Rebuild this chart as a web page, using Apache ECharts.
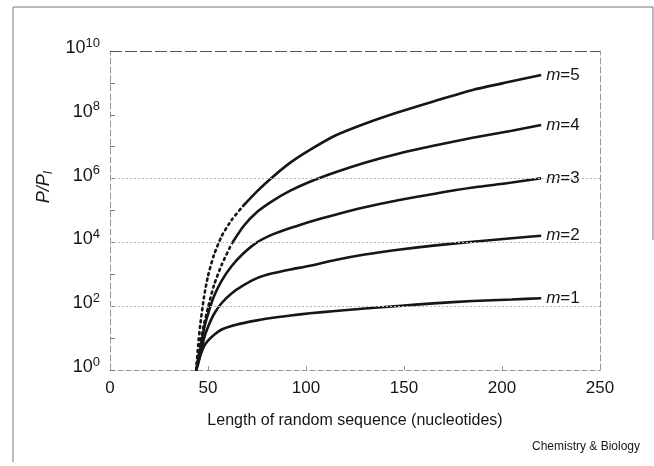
<!DOCTYPE html>
<html>
<head>
<meta charset="utf-8">
<script src="https://cdn.jsdelivr.net/npm/echarts@6/dist/echarts.min.js"></script>
<style>
  html, body { margin: 0; padding: 0; background: #fff; }
  #chart { width: 654px; height: 466px; }
</style>
</head>
<body>
<div id="chart"></div>
<script>
// sequence length (nucleotides)
const xs = [44, 45, 46, 48, 50, 53, 57, 62, 68, 75, 83, 92, 102, 115, 130, 147, 165, 185, 205, 220];
// P/P_I for each m
const m1 = [1, 1.78, 2.8, 5.6, 8.3, 12.6, 18.6, 24, 29.5, 36, 43.6, 51, 60, 71, 85, 102, 123, 145, 162, 178];
const m2 = [1, 1.58, 2.8, 10, 22.4, 56, 126, 251, 447, 759, 1070, 1410, 1860, 2820, 4170, 5890, 7940, 10500, 13500, 16200];
const m3 = [1, 2.24, 4.47, 20, 56, 200, 631, 1780, 4470, 10000, 17800, 28200, 44700, 74100, 1.26e5, 2.09e5, 3.31e5, 5.25e5, 7.59e5, 1.02e6];
const m4 = [1, 3.16, 7.1, 28, 89, 447, 2000, 8900, 31600, 89100, 2.0e5, 4.17e5, 7.94e5, 1.58e6, 3.16e6, 6.03e6, 1.07e7, 1.91e7, 3.16e7, 4.79e7];
const m5 = [1, 6.3, 25, 200, 890, 3980, 15800, 50100, 1.41e5, 3.98e5, 1.12e6, 3.16e6, 7.94e6, 2.24e7, 5.25e7, 1.2e8, 2.63e8, 6.03e8, 1.12e9, 1.78e9];
const curves = [
    { m: 1, values: m1, dottedUntil: 0 },
    { m: 2, values: m2, dottedUntil: 0 },
    { m: 3, values: m3, dottedUntil: 0 },
    { m: 4, values: m4, dottedUntil: 7 },
    { m: 5, values: m5, dottedUntil: 8 },
];
const xTicks = [0, 50, 100, 150, 200, 250];
const gridValues = [1e2, 1e4, 1e6];
const yMin = 1, yMax = 1e10;

const ink = '#161616';
const fontFamily = '"Liberation Sans", Arial, sans-serif';

const chart = echarts.init(document.getElementById('chart'), null, { renderer: 'canvas' });

const series = [];
curves.forEach(c => {
    const pts = xs.map((x, i) => [x, c.values[i]]);
    if (c.dottedUntil > 0) {
        series.push({
            type: 'line',
            data: pts.slice(0, c.dottedUntil + 1),
            smooth: 0.2,
            symbol: 'none',
            lineStyle: { color: ink, width: 2.6, type: [2, 4], cap: 'round' },
            z: 3,
        });
    }
    series.push({
        type: 'line',
        data: pts.slice(c.dottedUntil),
        smooth: 0.2,
        symbol: 'none',
        lineStyle: { color: ink, width: 2.6 },
        z: 3,
        endLabel: {
            show: true,
            distance: 5,
            formatter: '{i|m}{n|=' + c.m + '}',
            rich: {
                i: { fontFamily: fontFamily, fontSize: 17, fontStyle: 'italic', color: ink },
                n: { fontFamily: fontFamily, fontSize: 17, color: ink },
            },
        },
    });
});

// grid lines + top frame line
series.push({
    type: 'line',
    data: [],
    silent: true,
    markLine: {
        silent: true,
        symbol: 'none',
        label: { show: false },
        animation: false,
        data: gridValues.map(v => ({
            yAxis: v,
            lineStyle: { color: '#b8b8b8', width: 1, type: [2, 2] },
        })).concat([{
            yAxis: yMax,
            lineStyle: { color: '#555', width: 1, type: [12, 3] },
        }]),
    },
});

const option = {
    animation: false,
    backgroundColor: '#fff',
    grid: { left: 110, right: 54, top: 51, bottom: 96 },
    xAxis: {
        type: 'value',
        min: 0,
        max: 250,
        interval: 50,
        name: 'Length of random sequence (nucleotides)',
        nameLocation: 'middle',
        nameGap: 43,
        nameTextStyle: { fontFamily: fontFamily, fontSize: 16, color: ink },
        axisLine: { show: true, lineStyle: { color: '#999', width: 1, type: [5, 3] } },
        axisTick: { show: true, inside: true, length: 4, lineStyle: { color: '#999' } },
        axisLabel: {
            fontFamily: fontFamily, fontSize: 17, color: ink, margin: 10,
            formatter: v => xTicks.includes(v) ? String(v) : '',
        },
        splitLine: { show: false },
    },
    yAxis: [{
        type: 'log',
        logBase: 10,
        min: yMin,
        max: yMax,
        interval: 1,
        axisLine: { show: true, lineStyle: { color: '#999', width: 1, type: [6, 3] } },
        axisTick: { show: true, inside: true, length: 5, lineStyle: { color: '#777' } },
        axisLabel: {
            margin: 10,
            formatter: v => {
                const e = Math.round(Math.log10(v));
                return e % 2 === 0 ? '{b|10}{e|' + e + '}' : '';
            },
            rich: {
                b: { fontFamily: fontFamily, fontSize: 18, color: ink, padding: [0, 0, 6, 0] },
                e: { fontFamily: fontFamily, fontSize: 13, color: ink, padding: [0, 0, 16, 0] },
            },
        },
        splitLine: { show: false },
    }, {
        type: 'log',
        logBase: 10,
        min: yMin,
        max: yMax,
        position: 'right',
        axisLine: { show: true, lineStyle: { color: '#999', width: 1, type: [6, 3] } },
        axisTick: { show: false },
        axisLabel: { show: false },
        splitLine: { show: false },
    }],
    graphic: [
        {
            type: 'polyline',
            silent: true,
            shape: { points: [[13, 462], [13, 7], [653, 7], [653, 240]] },
            style: { stroke: '#777', lineWidth: 1, fill: null },
        },
        {
            type: 'text',
            silent: true,
            x: 44,
            y: 187,
            rotation: Math.PI / 2,
            style: {
                text: '{p|P/P}{s|I}',
                align: 'center',
                verticalAlign: 'middle',
                rich: {
                    p: { fontFamily: fontFamily, fontSize: 18, fontStyle: 'italic', fill: ink },
                    s: { fontFamily: fontFamily, fontSize: 12, fontStyle: 'italic', fill: ink, padding: [10, 0, 0, 0] },
                },
            },
        },
        {
            type: 'text',
            silent: true,
            x: 640,
            y: 447,
            style: {
                text: 'Chemistry & Biology',
                align: 'right',
                verticalAlign: 'middle',
                fontFamily: fontFamily,
                fontSize: 12,
                fill: ink,
            },
        },
    ],
    series: series,
};

chart.setOption(option);
</script>
</body>
</html>
